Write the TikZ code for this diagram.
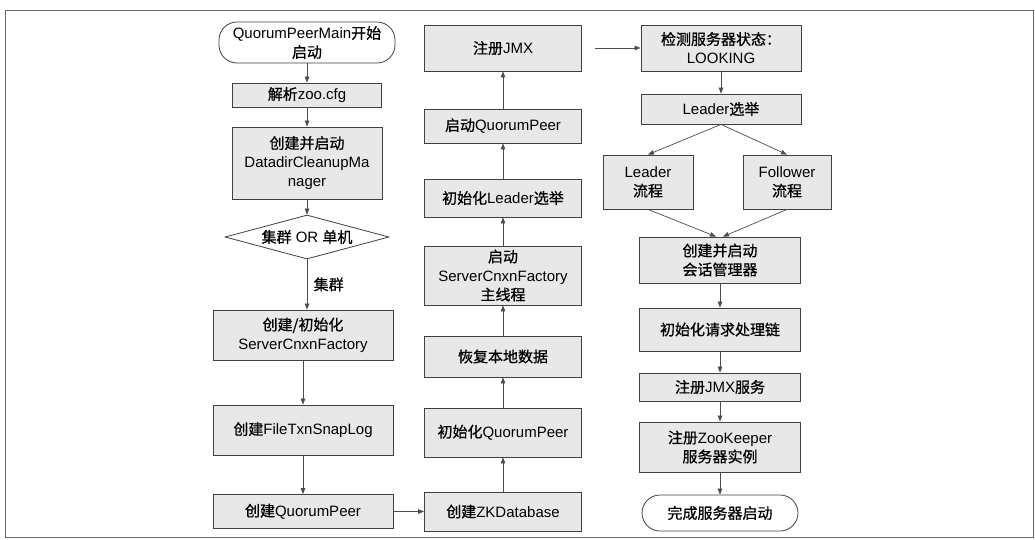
\documentclass[tikz,border=0pt]{standalone}
\usepackage{fontspec}
\setmainfont{Liberation Sans}
\newfontfamily\zhfont[FakeBold=0.8]{Noto Sans CJK SC}
\newcommand{\zhtxt}[1]{{\zhfont #1}}
\usetikzlibrary{arrows.meta,positioning,shapes}

\begin{document}
\begin{tikzpicture}[x=1pt,y=-1pt,font=\fontsize{15}{19}\selectfont,
  box/.style 2 args={draw=black!75,line width=0.8pt,fill=black!9,inner sep=0pt,align=center,minimum width=#1pt,minimum height=#2pt},
  term/.style 2 args={box={#1}{#2},fill=white,rounded corners=18pt},
  decision/.style={diamond,draw=black!75,line width=0.8pt,fill=white,inner sep=0pt,minimum width=164pt,minimum height=44pt},
  flow/.style={-{Triangle[length=6pt,width=4.5pt]},draw=black!70,line width=0.7pt}]
\useasboundingbox (0,0) rectangle (1035,539);
\draw[black!60,line width=0.9pt] (5,10) rectangle (1033,537);
% first column
\node[term={176}{41}] (start) at (307,42.5) {QuorumPeerMain\zhtxt{开始}\\\zhtxt{启动}};
\node[box={149}{24}] (parse) at (307,95) {\zhtxt{解析}zoo.cfg};
\node[box={150}{72}] (cleanup) at (307,163) {\zhtxt{创建并启动}\\DatadirCleanupMa\\nager};
\node[decision,label={center:{\zhtxt{集群} OR \zhtxt{单机}}}] (mode) at (307,237) {};
\node[box={180}{50}] (cnxn) at (303,335) {\zhtxt{创建/初始化}\\ServerCnxnFactory};
\node[box={180}{50}] (snaplog) at (303,430) {\zhtxt{创建}FileTxnSnapLog};
\node[box={180}{34}] (newpeer) at (303,511.5) {\zhtxt{创建}QuorumPeer};
% second column, bottom to top
\node[box={157}{39}] (zkdb) at (503,511.5) {\zhtxt{创建}ZKDatabase};
\node[box={157}{49}] (initpeer) at (503,432.5) {\zhtxt{初始化}QuorumPeer};
\node[box={157}{41}] (restore) at (503,356.5) {\zhtxt{恢复本地数据}};
\node[box={157}{59}] (thread) at (503,275.5) {\zhtxt{启动}\\ServerCnxnFactory\\\zhtxt{主线程}};
\node[box={157}{38}] (initvote) at (503,198) {\zhtxt{初始化}Leader\zhtxt{选举}};
\node[box={157}{34}] (runpeer) at (503,126) {\zhtxt{启动}QuorumPeer};
\node[box={157}{46}] (jmx) at (503,48) {\zhtxt{注册}JMX};
% third column
\node[box={160}{46}] (looking) at (721,48) {\zhtxt{检测服务器状态：}\\LOOKING};
\node[box={160}{30}] (elect) at (721,109) {Leader\zhtxt{选举}};
\node[box={90}{54}] (leaderflow) at (648,182) {Leader\\\zhtxt{流程}};
\node[box={88}{54}] (followflow) at (787,182) {Follower\\\zhtxt{流程}};
\node[box={161}{46}] (session) at (720,260) {\zhtxt{创建并启动}\\\zhtxt{会话管理器}};
\node[box={161}{43}] (chain) at (720,329.5) {\zhtxt{初始化请求处理链}};
\node[box={161}{28}] (jmxsvc) at (720,387) {\zhtxt{注册}JMX\zhtxt{服务}};
\node[box={161}{50}] (zkinst) at (720,447) {\zhtxt{注册}ZooKeeper\\\zhtxt{服务器实例}};
\node[term={156}{36}] (done) at (720,513) {\zhtxt{完成服务器启动}};
% connectors
\draw[flow] (start) -- (parse);
\draw[flow] (parse) -- (cleanup);
\draw[flow] (cleanup) -- (mode);
\draw[flow] (mode.south) -- node[right=3pt] {\zhtxt{集群}} (mode.south |- cnxn.north);
\draw[flow] (cnxn) -- (snaplog);
\draw[flow] (snaplog) -- (newpeer);
\draw[flow] (newpeer) -- (zkdb);
\draw[flow] (zkdb) -- (initpeer);
\draw[flow] (initpeer) -- (restore);
\draw[flow] (restore) -- (thread);
\draw[flow] (thread) -- (initvote);
\draw[flow] (initvote) -- (runpeer);
\draw[flow] (runpeer) -- (jmx);
\draw[flow,shorten <=13pt] (jmx) -- (looking);
\draw[flow] (looking) -- (elect);
\draw[flow] (elect.south) -- (leaderflow.north);
\draw[flow] (elect.south) -- (followflow.north);
\draw[flow] (leaderflow.south) -- ([xshift=-4pt]session.north);
\draw[flow] (followflow.south) -- ([xshift=3pt]session.north);
\draw[flow] (session) -- (chain);
\draw[flow] (chain) -- (jmxsvc);
\draw[flow] (jmxsvc) -- (zkinst);
\draw[flow] (zkinst) -- (done);
\end{tikzpicture}
\end{document}
